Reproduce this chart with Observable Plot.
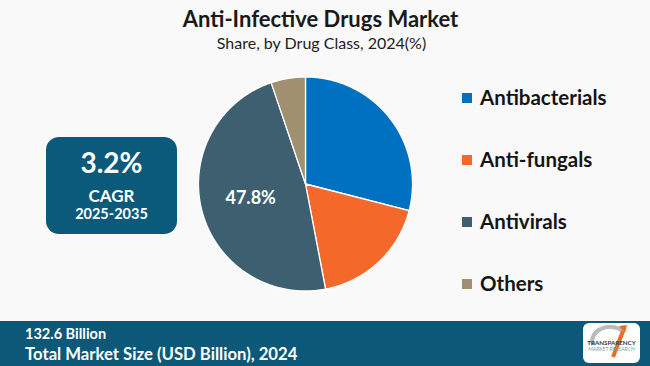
<!DOCTYPE html>
<html>
<head>
<meta charset="utf-8">
<script src="https://cdn.jsdelivr.net/npm/d3@7"></script>
<script src="https://cdn.jsdelivr.net/npm/@observablehq/plot@0.6"></script>
<style>
  html, body { margin: 0; padding: 0; }
  body { width: 650px; height: 366px; background: #f9f9f9; position: relative; overflow: hidden; font-family: Lato, "Open Sans", sans-serif; }
  .abs { position: absolute; white-space: nowrap; }
  #title { left: 0; width: 641px; text-align: center; top: 5px; font-size: 22px; font-weight: 700; color: #1a1a1a; }
  #subtitle { left: 0; width: 643px; text-align: center; top: 33px; font-size: 16px; color: #222; }
  #chart { position: absolute; left: 0; top: 0; }
  #cagr { left: 46px; top: 137px; width: 131px; height: 97px; background: #0b5a7b; border-radius: 13px; color: #fff; text-align: center; }
  #cagr .big { position: absolute; left: 0; right: 0; top: 8px; font-size: 28px; font-weight: 700; }
  #cagr .mid { position: absolute; left: 0; right: 0; top: 48px; font-size: 17px; font-weight: 700; }
  #cagr .small { position: absolute; left: 0; right: 0; top: 68px; font-size: 14.5px; font-weight: 700; }
  .leg { left: 462px; font-size: 20.5px; font-weight: 700; color: #151515; }
  .leg .sw { display: inline-block; width: 10px; height: 10px; margin-right: 8px; vertical-align: middle; position: relative; top: -2px; }
  #footer { left: 0; top: 321px; width: 650px; height: 45px; background: #0b5878; }
  #f1 { left: 25px; top: 325px; font-size: 14.5px; font-weight: 700; color: #fff; }
  #f2 { left: 25px; top: 344px; font-size: 16.7px; font-weight: 700; color: #fff; }
  #logo { left: 583px; top: 323px; width: 57px; height: 40px; background: #fff; border-radius: 6px; }
</style>
</head>
<body>
<script>
// ---- data ----
const categories = ["Antibacterials", "Anti-fungals", "Antivirals", "Others"];
const shares = [29.0, 18.0, 47.8, 5.2];
const colors = ["#0070c0", "#f4692a", "#3e5f70", "#a09070"];
const labelled = ["Antivirals"];
const titleText = "Anti-Infective Drugs Market";
const subtitleText = "Share, by Drug Class, 2024(%)";
const cagrValue = "3.2%";
const cagrLabel = "CAGR";
const cagrPeriod = "2025-2035";
const marketValue = "132.6 Billion";
const marketLabel = "Total Market Size (USD Billion), 2024";

// ---- build slice outlines (clockwise from 12 o'clock) ----
const total = d3.sum(shares);
const rows = [];
const labels = [];
let cum = 0;
categories.forEach((cat, i) => {
  const a0 = cum / total * 2 * Math.PI;
  cum += shares[i];
  const a1 = cum / total * 2 * Math.PI;
  rows.push({cat, x: 0, y: 0});
  const n = Math.max(2, Math.ceil((a1 - a0) / (Math.PI / 360)));
  for (let k = 0; k <= n; k++) {
    const t = a0 + (a1 - a0) * k / n;
    rows.push({cat, x: Math.sin(t), y: Math.cos(t)});
  }
  rows.push({cat, x: 0, y: 0});
  if (labelled.includes(cat)) {
    const m = (a0 + a1) / 2;
    labels.push({cat, x: 0.53 * Math.sin(m), y: 0.53 * Math.cos(m), text: shares[i].toFixed(1) + "%"});
  }
});

const cx = 305, cy = 183.5, r = 107;
const chart = Plot.plot({
  width: 650,
  height: 366,
  margin: 0,
  style: {background: "transparent", overflow: "visible"},
  x: {domain: [-1, 1], range: [cx - r, cx + r], axis: null},
  y: {domain: [-1, 1], range: [cy + r, cy - r], axis: null},
  color: {domain: categories, range: colors},
  marks: [
    Plot.line(rows, {x: "x", y: "y", z: "cat", fill: "cat", stroke: "#ffffff", strokeWidth: 1.3, strokeLinejoin: "round", curve: "linear"}),
    Plot.text(labels, {x: "x", y: "y", text: "text", fill: "#ffffff", fontSize: 18, fontWeight: 700, fontFamily: "Lato, 'Open Sans', sans-serif"})
  ]
});
chart.id = "chart";

function div(id, cls, text) {
  const d = document.createElement("div");
  if (id) d.id = id;
  d.className = "abs" + (cls ? " " + cls : "");
  if (text != null) d.textContent = text;
  document.body.appendChild(d);
  return d;
}

div("title", "", titleText);
div("subtitle", "", subtitleText);
document.body.appendChild(chart);

const cagr = div("cagr", "");
const b1 = document.createElement("div"); b1.className = "big"; b1.textContent = cagrValue; cagr.appendChild(b1);
const b2 = document.createElement("div"); b2.className = "mid"; b2.textContent = cagrLabel; cagr.appendChild(b2);
const b3 = document.createElement("div"); b3.className = "small"; b3.textContent = cagrPeriod; cagr.appendChild(b3);

const legTops = [85, 147, 209, 271];
categories.forEach((cat, i) => {
  const d = div(null, "leg");
  d.style.top = legTops[i] + "px";
  const sw = document.createElement("span");
  sw.className = "sw"; sw.style.background = colors[i];
  d.appendChild(sw);
  d.appendChild(document.createTextNode(cat));
});

div("footer", "");
div("f1", "", marketValue);
div("f2", "", marketLabel);
const logo = div("logo", "");
logo.innerHTML = `<svg width="57" height="40" viewBox="0 0 57 40">
  <path d="M10 22 A18 14 0 0 1 40 8" fill="none" stroke="#b8bcc0" stroke-width="4"/>
  <path d="M36 3 L44 2 L42 10 Z" fill="#f26a22"/>
  <path d="M40 8 L30 34" stroke="#f26a22" stroke-width="4"/>
  <text x="28.5" y="22" text-anchor="middle" font-size="6.2" font-weight="700" fill="#2a3a4a" font-family="Lato, sans-serif">TRANSPARENCY</text>
  <text x="28.5" y="28" text-anchor="middle" font-size="5" fill="#7aa0a8" font-family="Lato, sans-serif">MARKET RESEARCH</text>
</svg>`;
</script>
</body>
</html>
